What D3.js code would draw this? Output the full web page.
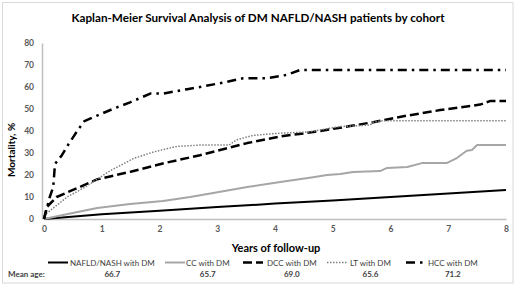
<!DOCTYPE html>
<html>
<head>
<meta charset="utf-8">
<script src="https://cdn.jsdelivr.net/npm/d3@7"></script>
<style>
  body { margin: 0; background: #fff; }
  svg { display: block; font-family: Lato, "Open Sans", sans-serif; }
</style>
</head>
<body>
<svg id="chart" width="520" height="286"></svg>
<script>
const width = 520;
const height = 286;
const margin = { top: 43, right: 14, bottom: 67, left: 44 };

// years of follow-up / mortality %
const naflYears = [0, 1, 2, 3, 4, 5, 6, 7, 8];
const naflMort  = [0, 2.2, 3.8, 5.4, 7.0, 8.4, 10.0, 11.6, 13.2];

const ccYears = [0, 0.33, 0.92, 1.49, 2.06, 2.53, 2.93, 3.52, 4.09, 4.66, 4.9, 5.13, 5.35, 5.82, 5.94, 6.29, 6.56, 6.98, 7.15, 7.32, 7.41, 7.5, 8];
const ccMort  = [0, 1.8, 5, 6.8, 8.2, 10, 11.8, 14.5, 16.8, 19, 20, 20.5, 21.4, 21.8, 23.2, 23.6, 25.5, 25.5, 27.7, 31, 31.4, 33.6, 33.6];

const dccYears = [0, 0.05, 0.22, 0.57, 0.92, 1.5, 2.1, 2.7, 3.52, 4.09, 4.66, 5.25, 5.7, 6.29, 6.86, 7.55, 7.72, 8];
const dccMort  = [0, 5.5, 10, 14, 18, 21.5, 25.5, 29, 34.5, 37.5, 39.5, 42, 44, 47, 49.5, 52, 53.6, 53.6];

const ltYears = [0, 0.02, 0.4, 0.68, 1.15, 1.55, 1.9, 2.3, 2.7, 3.2, 3.34, 3.62, 4.09, 4.55, 4.78, 5.13, 5.65, 5.7, 5.87, 8];
const ltMort  = [0, 2, 10, 14, 22, 27.5, 30.5, 33, 33.6, 33.6, 36, 38, 39, 39.5, 40.5, 42, 42.7, 44, 44.7, 44.7];

const hccYears = [0, 0.1, 0.16, 0.19, 0.31, 0.4, 0.5, 0.6, 0.7, 0.92, 1.19, 1.49, 1.84, 2.06, 2.48, 2.7, 3.1, 3.45, 3.86, 4.2, 4.43, 8];
const hccMort  = [0, 10, 14.5, 25, 29, 33, 37, 41, 44.5, 47, 50, 53, 57, 57, 59, 60, 62, 64, 64, 65.5, 67.7, 67.7];

const seriesNames = ["NAFLD/NASH with DM", "CC with DM", "DCC with DM", "LT with DM", "HCC with DM"];
const meanAges = ["66.7", "65.7", "69.0", "65.6", "71.2"];

const xTicks = [0, 1, 2, 3, 4, 5, 6, 7, 8];
const yTicks = [0, 10, 20, 30, 40, 50, 60, 70, 80];

const styles = [
  { stroke: "#000", width: 2, dash: null },
  { stroke: "#a6a6a6", width: 2, dash: null },
  { stroke: "#000", width: 2.5, dash: "9,4" },
  { stroke: "#7f7f7f", width: 1.5, dash: "1.5,1.5" },
  { stroke: "#000", width: 2.5, dash: "9,5,2.5,5" }
];

const series = [
  d3.zip(naflYears, naflMort),
  d3.zip(ccYears, ccMort),
  d3.zip(dccYears, dccMort),
  d3.zip(ltYears, ltMort),
  d3.zip(hccYears, hccMort)
];

const svg = d3.select("#chart");

// outer frame
svg.append("rect")
  .attr("x", 2.5).attr("y", 2.5)
  .attr("width", 510.5).attr("height", 280.5)
  .attr("fill", "#fff")
  .attr("stroke", "#d9d9d9");

const x = d3.scaleLinear()
  .domain([0, 8])
  .range([margin.left, width - margin.right]);

const y = d3.scaleLinear()
  .domain([0, 80])
  .range([height - margin.bottom, margin.top]);

svg.append("text")
  .attr("x", 258)
  .attr("y", 22)
  .attr("text-anchor", "middle")
  .attr("font-size", 11.7)
  .attr("font-weight", "bold")
  .attr("fill", "#000")
  .text("Kaplan-Meier Survival Analysis of DM NAFLD/NASH patients by cohort");

const xAxis = svg.append("g")
  .attr("transform", `translate(0,${y(0)})`)
  .call(d3.axisBottom(x).tickValues(xTicks).tickSize(0).tickPadding(7).tickFormat(d3.format("d")));

const yAxis = svg.append("g")
  .attr("transform", `translate(${x(0) - 2},0)`)
  .call(d3.axisLeft(y).tickValues(yTicks).tickSize(0).tickPadding(8));

[xAxis, yAxis].forEach(g => {
  g.select(".domain").attr("stroke", "#bfbfbf").attr("stroke-width", 1.5);
  g.selectAll("text")
    .attr("font-family", "Lato, sans-serif")
    .attr("font-size", 8.5)
    .attr("font-weight", "bold")
    .attr("fill", "#595959");
});

const line = d3.line()
  .x(d => x(d[0]))
  .y(d => y(d[1]));

svg.selectAll(".km")
  .data(series)
  .join("path")
  .attr("class", "km")
  .attr("fill", "none")
  .attr("stroke", (d, i) => styles[i].stroke)
  .attr("stroke-width", (d, i) => styles[i].width)
  .attr("stroke-dasharray", (d, i) => styles[i].dash)
  .attr("stroke-linejoin", "round")
  .attr("d", line);

svg.append("text")
  .attr("x", 276)
  .attr("y", 252)
  .attr("text-anchor", "middle")
  .attr("font-size", 11)
  .attr("font-weight", "bold")
  .attr("fill", "#000")
  .text("Years of follow-up");

svg.append("text")
  .attr("transform", "translate(15,150) rotate(-90)")
  .attr("text-anchor", "middle")
  .attr("font-size", 10)
  .attr("font-weight", "bold")
  .attr("fill", "#000")
  .text("Mortality, %");

// legend with mean ages underneath
const legendLineX = [48, 165, 243, 327, 406];
const legendTextX = [70, 186, 267, 350, 428];

const legend = svg.append("g");
seriesNames.forEach((name, i) => {
  const g = legend.append("g");
  g.append("line")
    .attr("x1", legendLineX[i]).attr("x2", legendLineX[i] + 20)
    .attr("y1", 262.5).attr("y2", 262.5)
    .attr("stroke", styles[i].stroke)
    .attr("stroke-width", styles[i].width)
    .attr("stroke-dasharray", styles[i].dash);
  const t = g.append("text")
    .attr("x", legendTextX[i])
    .attr("y", 265.5)
    .attr("font-size", 8)
    .attr("fill", "#404040")
    .text(name);
  const w = t.node().getComputedTextLength();
  g.append("text")
    .attr("x", legendTextX[i] + w / 2)
    .attr("y", 276.5)
    .attr("text-anchor", "middle")
    .attr("font-size", 8)
    .attr("font-weight", "bold")
    .attr("fill", "#404040")
    .text(meanAges[i]);
});

svg.append("text")
  .attr("x", 8)
  .attr("y", 276.5)
  .attr("font-size", 8)
  .attr("font-weight", "bold")
  .attr("fill", "#404040")
  .text("Mean age:");
</script>
</body>
</html>
